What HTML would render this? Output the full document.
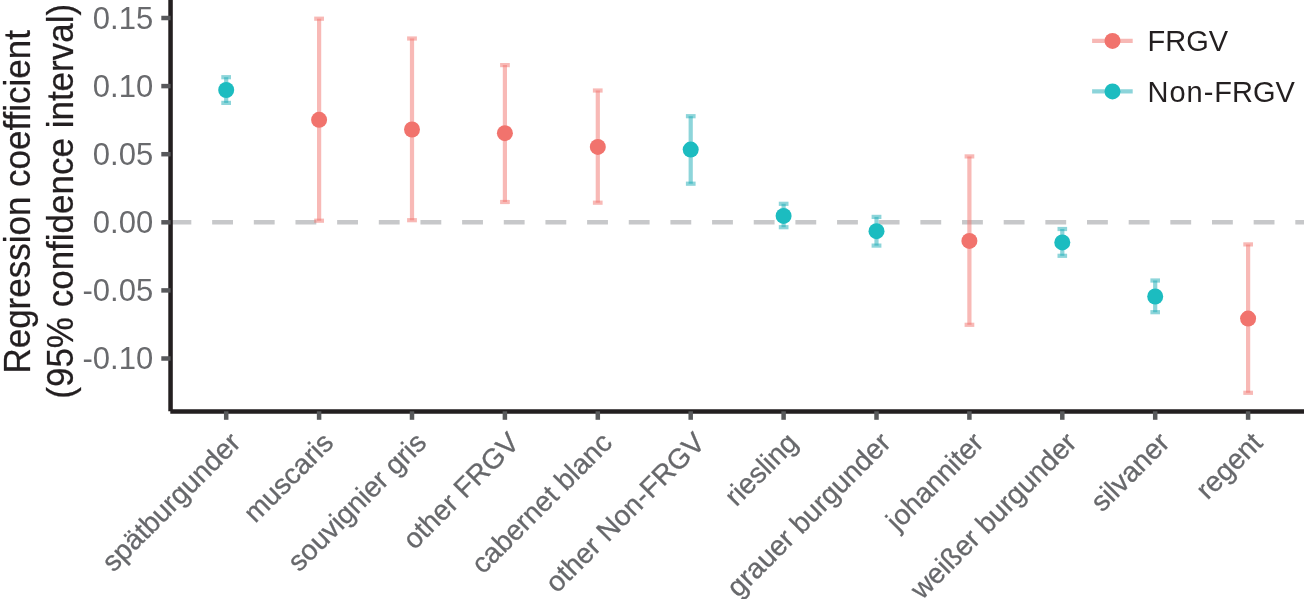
<!DOCTYPE html>
<html lang="de">
<head>
<meta charset="utf-8">
<title>Regression coefficient chart</title>
<style>
html,body{margin:0;padding:0;background:#fff;}
body{width:1304px;height:599px;overflow:hidden;}
svg{display:block;}
text{font-family:"Liberation Sans",Arial,Helvetica,sans-serif;}
</style>
</head>
<body>
<svg width="1304" height="599" viewBox="0 0 1304 599">
<rect x="0" y="0" width="1304" height="599" fill="#ffffff"/>
<line x1="170.5" y1="222.3" x2="1310" y2="222.3" stroke="#c7c8ca" stroke-width="4.6" stroke-dasharray="20.83 20.83"/>
<g fill="none" stroke-width="4.2" stroke-linecap="butt">
<g stroke="#1cabb6" stroke-opacity="0.5"><path d="M221.3 77.2H231.0"/><path d="M221.3 102.9H231.0"/><path d="M226.2 77.2V102.9"/></g>
<g stroke="#f1736d" stroke-opacity="0.5"><path d="M314.2 18.7H324.0"/><path d="M314.2 220.7H324.0"/><path d="M319.1 18.7V220.7"/></g>
<g stroke="#f1736d" stroke-opacity="0.5"><path d="M407.1 38.5H416.9"/><path d="M407.1 220.2H416.9"/><path d="M412.0 38.5V220.2"/></g>
<g stroke="#f1736d" stroke-opacity="0.5"><path d="M500.1 65.1H509.8"/><path d="M500.1 202.0H509.8"/><path d="M504.9 65.1V202.0"/></g>
<g stroke="#f1736d" stroke-opacity="0.5"><path d="M592.9 90.5H602.6"/><path d="M592.9 202.7H602.6"/><path d="M597.8 90.5V202.7"/></g>
<g stroke="#1cabb6" stroke-opacity="0.5"><path d="M685.9 116.2H695.6"/><path d="M685.9 183.7H695.6"/><path d="M690.7 116.2V183.7"/></g>
<g stroke="#1cabb6" stroke-opacity="0.5"><path d="M778.8 203.8H788.5"/><path d="M778.8 227.2H788.5"/><path d="M783.6 203.8V227.2"/></g>
<g stroke="#1cabb6" stroke-opacity="0.5"><path d="M871.6 216.9H881.4"/><path d="M871.6 245.6H881.4"/><path d="M876.5 216.9V245.6"/></g>
<g stroke="#f1736d" stroke-opacity="0.5"><path d="M964.6 156.4H974.3"/><path d="M964.6 324.8H974.3"/><path d="M969.4 156.4V324.8"/></g>
<g stroke="#1cabb6" stroke-opacity="0.5"><path d="M1057.5 229.0H1067.1"/><path d="M1057.5 255.8H1067.1"/><path d="M1062.3 229.0V255.8"/></g>
<g stroke="#1cabb6" stroke-opacity="0.5"><path d="M1150.4 280.5H1160.0"/><path d="M1150.4 312.2H1160.0"/><path d="M1155.2 280.5V312.2"/></g>
<g stroke="#f1736d" stroke-opacity="0.5"><path d="M1243.3 244.4H1253.0"/><path d="M1243.3 392.8H1253.0"/><path d="M1248.1 244.4V392.8"/></g>
</g>
<circle cx="226.2" cy="90.0" r="8.0" fill="#1cbcc0"/>
<circle cx="319.1" cy="119.8" r="8.0" fill="#f1736d"/>
<circle cx="412.0" cy="129.5" r="8.0" fill="#f1736d"/>
<circle cx="504.9" cy="133.2" r="8.0" fill="#f1736d"/>
<circle cx="597.8" cy="146.9" r="8.0" fill="#f1736d"/>
<circle cx="690.7" cy="149.6" r="8.0" fill="#1cbcc0"/>
<circle cx="783.6" cy="215.9" r="8.0" fill="#1cbcc0"/>
<circle cx="876.5" cy="231.2" r="8.0" fill="#1cbcc0"/>
<circle cx="969.4" cy="240.9" r="8.0" fill="#f1736d"/>
<circle cx="1062.3" cy="242.4" r="8.0" fill="#1cbcc0"/>
<circle cx="1155.2" cy="296.5" r="8.0" fill="#1cbcc0"/>
<circle cx="1248.1" cy="318.6" r="8.0" fill="#f1736d"/>
<path d="M170.55 -5V411.2M170.3 411.45H1310" fill="none" stroke="#231f20" stroke-width="4.5"/>
<g stroke="#58595b" stroke-width="4.5">
<path d="M161.3 18.0H170.6"/>
<path d="M161.3 86.1H170.6"/>
<path d="M161.3 154.2H170.6"/>
<path d="M161.3 222.3H170.6"/>
<path d="M161.3 290.4H170.6"/>
<path d="M161.3 358.5H170.6"/>
<path d="M226.2 411.3V419.8"/>
<path d="M319.1 411.3V419.8"/>
<path d="M412.0 411.3V419.8"/>
<path d="M504.9 411.3V419.8"/>
<path d="M597.8 411.3V419.8"/>
<path d="M690.7 411.3V419.8"/>
<path d="M783.6 411.3V419.8"/>
<path d="M876.5 411.3V419.8"/>
<path d="M969.4 411.3V419.8"/>
<path d="M1062.3 411.3V419.8"/>
<path d="M1155.2 411.3V419.8"/>
<path d="M1248.1 411.3V419.8"/>
</g>
<g fill="#696a6d" font-size="31" text-anchor="end">
<text x="153.2" y="28.6">0.15</text>
<text x="153.2" y="96.7">0.10</text>
<text x="153.2" y="164.8">0.05</text>
<text x="153.2" y="232.9">0.00</text>
<text x="153.2" y="301.0">-0.05</text>
<text x="153.2" y="369.1">-0.10</text>
</g>
<g fill="#67686b" stroke="#67686b" stroke-width="0.3" font-size="28.2" text-anchor="end">
<text transform="translate(227.2 429.5) rotate(-45)" x="0" y="21">spätburgunder</text>
<text transform="translate(320.1 429.5) rotate(-45)" x="0" y="21">muscaris</text>
<text transform="translate(413.0 429.5) rotate(-45)" x="0" y="21">souvignier gris</text>
<text transform="translate(505.9 429.5) rotate(-45)" x="0" y="21">other FRGV</text>
<text transform="translate(598.8 429.5) rotate(-45)" x="0" y="21">cabernet blanc</text>
<text transform="translate(691.7 429.5) rotate(-45)" x="0" y="21">other Non-FRGV</text>
<text transform="translate(784.6 429.5) rotate(-45)" x="0" y="21">riesling</text>
<text transform="translate(877.5 429.5) rotate(-45)" x="0" y="21">grauer burgunder</text>
<text transform="translate(970.4 429.5) rotate(-45)" x="0" y="21">johanniter</text>
<text transform="translate(1063.3 429.5) rotate(-45)" x="0" y="21">weißer burgunder</text>
<text transform="translate(1156.2 429.5) rotate(-45)" x="0" y="21">silvaner</text>
<text transform="translate(1249.1 429.5) rotate(-45)" x="0" y="21">regent</text>
</g>
<g fill="#231f20" stroke="#231f20" stroke-width="0.25" font-size="35" text-anchor="middle">
<text transform="translate(30 201.8) rotate(-90) scale(1 1.03)">Regression coefficient</text>
<text transform="translate(72.7 201.3) rotate(-90) scale(1 1.03)">(95% confidence interval)</text>
</g>
<path d="M1092.1 40.9H1132.7" stroke="#f1736d" stroke-width="4.2" opacity="0.5"/>
<circle cx="1112.5" cy="40.9" r="8.0" fill="#f1736d"/>
<text x="1147.5" y="51.0" font-size="29" fill="#231f20">FRGV</text>
<path d="M1092.1 91.4H1132.7" stroke="#1cabb6" stroke-width="4.2" opacity="0.5"/>
<circle cx="1112.5" cy="91.4" r="8.0" fill="#1cbcc0"/>
<text x="1147.5" y="101.5" font-size="29" fill="#231f20"><tspan letter-spacing="1">Non-</tspan>FRGV</text>
</svg>
</body>
</html>
